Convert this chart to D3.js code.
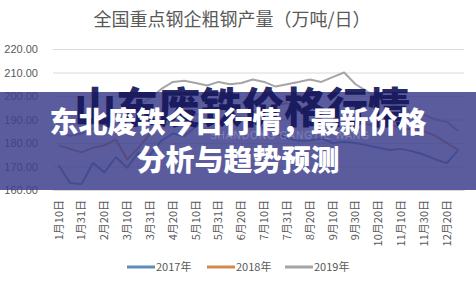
<!DOCTYPE html>
<html>
<head>
<meta charset="utf-8">
<script src="https://cdn.jsdelivr.net/npm/d3@7"></script>
<style>
  body { margin: 0; background: #fff; }
  svg { display: block; }
</style>
</head>
<body>
<div id="chart"></div>
<script>
// dekad dates on the category axis
var dates = ["1月10日","1月20日","1月31日","2月10日","2月20日","2月28日","3月10日","3月20日","3月31日",
  "4月10日","4月20日","4月30日","5月10日","5月20日","5月31日","6月10日","6月20日","6月30日",
  "7月10日","7月20日","7月31日","8月10日","8月20日","8月31日","9月10日","9月20日","9月30日",
  "10月10日","10月20日","10月31日","11月10日","11月20日","11月30日","12月10日","12月20日","12月31日"];

var s2017 = [170.5,163,162.5,171.5,167.5,174,169.5,176,175,181,184,183,187,189,190,192,191,190,
  186,184,182,181,181,182,180,180.5,180,179,178,177,177.5,176.5,175,173,171.5,177];
var s2018 = [179,177.5,176,178,179,181.5,173,178,184,187,189,190,192,193,195,196,194,193,
  195,196,197,195,193,192,191,190,189,188,187,188,186,186,185,183,180,177];
var s2019 = [185,183,184,186,188,190,193,196,199,203,206,206.5,205.5,204.5,206,205,205.5,207,
  206,204,205,206,207,206,208,210,205,202,199,197,195,193,192,190,189,185];

var seriesNames = ["2017年","2018年","2019年"];
var seriesColors = ["#5f8cb8","#d08a4e","#a5a5a5"];
var yTicks = [160,170,180,190,200,210,220];

var title = "全国重点钢企粗钢产量（万吨/日）";
var watermark = "山东废铁价格行情";
var headline = ["东北废铁今日行情，最新价格", "分析与趋势预测"];

var W = 476, H = 284;
var margin = {left: 53, right: 12, top: 49, bottom: 94};

var svg = d3.select("#chart").append("svg")
  .attr("width", W).attr("height", H);

var x = d3.scaleBand().domain(dates).range([margin.left, W - margin.right]).padding(0);
var y = d3.scaleLinear().domain([160, 220]).range([H - margin.bottom, margin.top]);

// title
svg.append("text")
  .attr("x", 232).attr("y", 26)
  .attr("text-anchor", "middle")
  .style("font-family", "'Noto Sans CJK SC'")
  .style("font-size", "18px")
  .style("fill", "#595959")
  .text(title);

// y axis + gridlines
var yAxis = svg.append("g")
  .attr("transform", "translate(" + margin.left + ",0)")
  .call(d3.axisLeft(y).tickValues(yTicks).tickFormat(d3.format(".2f"))
    .tickSize(-(W - margin.left - margin.right)).tickPadding(15));
yAxis.select(".domain").remove();
yAxis.selectAll("line").style("stroke", "#d9d9d9");
yAxis.selectAll("text")
  .style("font-family", "'Liberation Sans'")
  .style("font-size", "11px")
  .style("fill", "#595959");

// x axis labels, every other date
var xAxis = svg.append("g")
  .attr("transform", "translate(0," + (H - margin.bottom) + ")")
  .call(d3.axisBottom(x).tickValues(dates.filter(function(d, i) { return i % 2 == 0; })).tickSize(0));
xAxis.select(".domain").style("stroke", "#d9d9d9");
xAxis.selectAll("text")
  .attr("transform", "rotate(-90)")
  .attr("text-anchor", "end")
  .attr("x", -10).attr("y", 0).attr("dy", "0.35em")
  .style("font-family", "'Noto Sans CJK SC'")
  .style("font-size", "11px")
  .style("fill", "#595959");

// lines
var line = d3.line()
  .x(function(d, i) { return x(dates[i]) + x.bandwidth() / 2; })
  .y(function(d) { return y(d); });

[s2017, s2018, s2019].forEach(function(s, k) {
  svg.append("path")
    .datum(s)
    .attr("d", line)
    .style("fill", "none")
    .style("stroke", seriesColors[k])
    .style("stroke-width", 2)
    .style("stroke-linejoin", "round");
});

// legend
var legend = svg.append("g").attr("transform", "translate(127,267)");
var lx = [0, 80, 158];
seriesNames.forEach(function(n, k) {
  var g = legend.append("g").attr("transform", "translate(" + lx[k] + ",0)");
  g.append("line").attr("x1", 0).attr("x2", 28).attr("y1", 0).attr("y2", 0)
    .style("stroke", seriesColors[k]).style("stroke-width", 3);
  g.append("text").attr("x", 29).attr("y", 0).attr("dy", "0.35em")
    .style("font-family", "'Noto Sans CJK SC'")
    .style("font-size", "11px")
    .style("fill", "#595959")
    .text(n);
});

// overlay band
svg.append("rect")
  .attr("x", 0).attr("y", 92).attr("width", W).attr("height", 98)
  .style("fill", "rgb(62,64,140)")
  .style("opacity", 0.85);

// watermark
svg.append("text")
  .attr("x", 74).attr("y", 123)
  .style("font-family", "'Noto Sans CJK SC'")
  .style("font-weight", 900)
  .style("font-size", "42px")
  .style("fill", "#15175a")
  .style("opacity", 0.92)
  .text(watermark);

svg.append("text")
  .attr("x", 290).attr("y", 139)
  .attr("text-anchor", "middle")
  .style("font-family", "'Liberation Sans'")
  .style("font-size", "10px")
  .style("letter-spacing", "1px")
  .style("fill", "#c8c8e0")
  .style("opacity", 0.35)
  .text("SHANDONG GANGTIE WANG");

// headline
headline.forEach(function(t, i) {
  svg.append("text")
    .attr("x", 238).attr("y", 133 + i * 38)
    .attr("text-anchor", "middle")
    .style("font-family", "'Noto Sans CJK SC'")
    .style("font-weight", 900)
    .style("font-size", "29px")
    .style("fill", "#ffffff")
    .text(t);
});
</script>
</body>
</html>
